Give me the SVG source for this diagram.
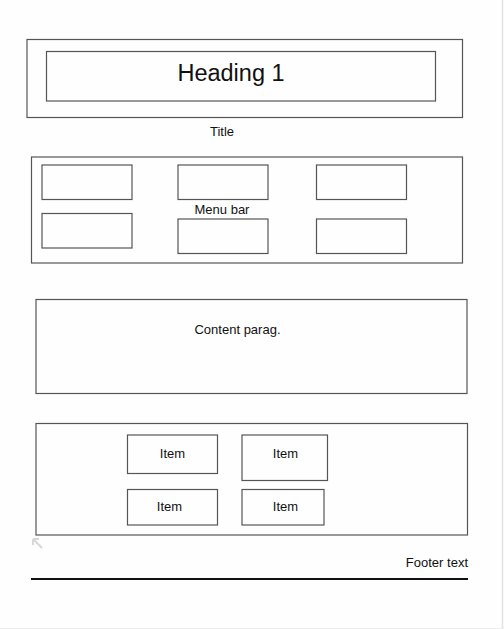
<svg xmlns="http://www.w3.org/2000/svg" width="504" height="629" viewBox="0 0 504 629">
<style>
.box{fill:none;stroke:#555;stroke-width:1.2}
.t{font-family:"Liberation Sans",Arial,sans-serif;font-size:13px;fill:#111;text-anchor:middle}
</style>
<rect x="0" y="0" width="504" height="629" fill="#fefefe"/>
<line x1="502.5" y1="0" x2="502.5" y2="629" stroke="#e2e2e2" stroke-width="1.5"/>
<line x1="0" y1="628.5" x2="504" y2="628.5" stroke="#ececec" stroke-width="1"/>
<g id="title">
<rect class="box" x="27" y="39.5" width="435.5" height="78"/>
<rect class="box" x="46.5" y="51.5" width="389" height="49.5"/>
<text x="231" y="80.5" style="font-family:'Liberation Sans',Arial,sans-serif;font-size:23.5px;fill:#111;text-anchor:middle">Heading 1</text>
<text class="t" x="222" y="135.5">Title</text>
</g>
<g id="menubar">
<rect class="box" x="31.5" y="157" width="431" height="106"/>
<rect class="box" x="42" y="165" width="90" height="34.5"/>
<rect class="box" x="178" y="165" width="90" height="34.5"/>
<rect class="box" x="316.5" y="165" width="90" height="34.5"/>
<rect class="box" x="42" y="213.5" width="90" height="34.5"/>
<rect class="box" x="178" y="219" width="90" height="34.5"/>
<rect class="box" x="316.5" y="219" width="90" height="34.5"/>
<text class="t" x="222" y="214">Menu bar</text>
</g>
<g id="content">
<rect class="box" x="36" y="299.5" width="431" height="94"/>
<text class="t" x="237.5" y="333.5">Content parag.</text>
</g>
<g id="items">
<rect class="box" x="36" y="423.5" width="431.5" height="111.5"/>
<rect class="box" x="127.5" y="435" width="90" height="38.5"/>
<rect class="box" x="242" y="435" width="85.5" height="45.5"/>
<rect class="box" x="127.5" y="489.5" width="90" height="35.5"/>
<rect class="box" x="242" y="489.5" width="82" height="35.5"/>
<text class="t" x="172.5" y="457.5">Item</text>
<text class="t" x="285.5" y="457.5">Item</text>
<text class="t" x="169.5" y="510.5">Item</text>
<text class="t" x="285.5" y="510.5">Item</text>
</g>
<g id="handle">
<path d="M33 539 L33 545 M33 539 L39 539 M33 539 L42 548" fill="none" stroke="#d8d8d8" stroke-width="2"/>
</g>
<g id="footer">
<text class="t" x="468" y="566.5" style="text-anchor:end">Footer text</text>
<line x1="31" y1="579" x2="468" y2="579" stroke="#111" stroke-width="2"/>
</g>
</svg>
